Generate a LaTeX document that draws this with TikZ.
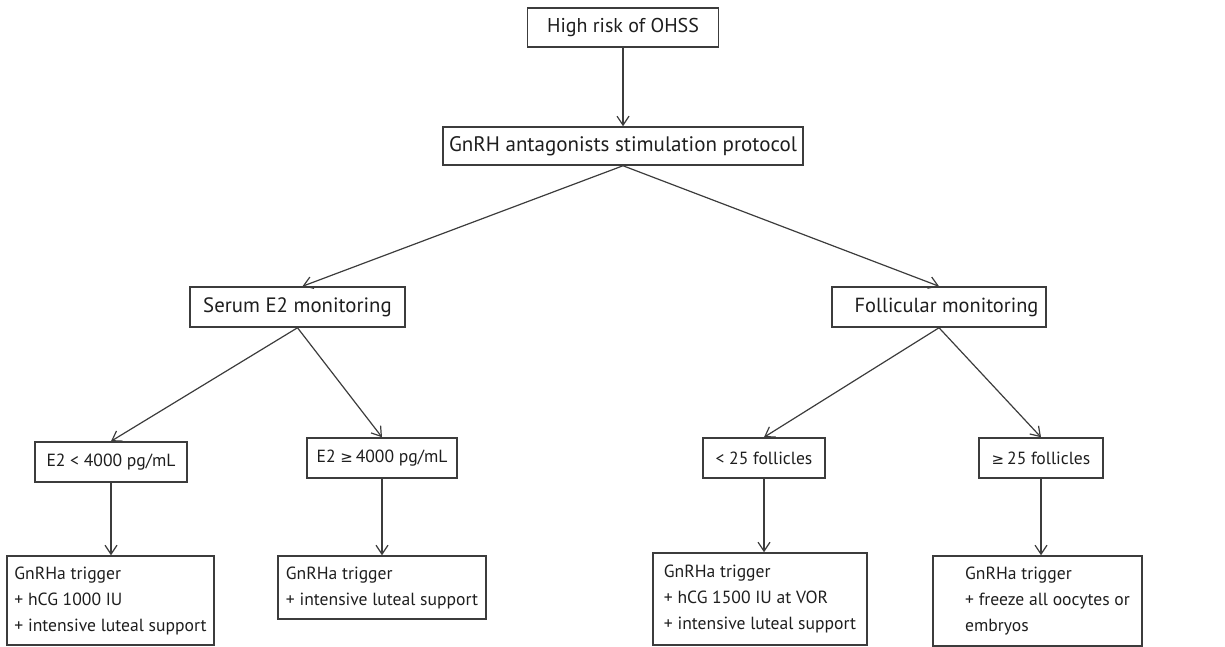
\documentclass[tikz,border=0pt]{standalone}
\usepackage{fontspec}
\setmainfont{PT Sans}
\newfontfamily\symfont{DejaVu Sans}
\usetikzlibrary{arrows.meta}
\definecolor{linegray}{HTML}{3C3C3C}
\definecolor{inkgray}{HTML}{1E1E1E}
% greater-or-equal sign taken from DejaVu Sans, scaled to the running text
\newcommand{\geqsym}{{\symfont\fontsize{0.85\dimexpr\csname f@size\endcsname pt\relax}{26}\selectfont ≥}}
\begin{document}
\begin{tikzpicture}[x=1pt,y=-1pt,
  box/.style={draw=linegray, line width=1.5pt, rectangle, inner sep=0pt,
    align=left, text=inkgray},
  bigtext/.style={font=\fontsize{20.5}{26}\selectfont},
  smalltext/.style={font=\fontsize{17.6}{26}\selectfont},
  arr/.style={draw=linegray, line width=1.2pt,
    -{Straight Barb[length=9pt,width=12pt,line width=1.2pt]}}]
\useasboundingbox (0,0) rectangle (1225,646);

% top of the decision tree
\node[box, font=\fontsize{20}{26}\selectfont, minimum width=191pt, minimum height=39pt]
  (risk) at (623,27.5) {High risk of OHSS};
\node[box, font=\fontsize{21}{26}\selectfont, minimum width=360pt, minimum height=38pt]
  (proto) at (623,146) {GnRH antagonists stimulation protocol};

% monitoring branches
\node[box, font=\fontsize{20.8}{26}\selectfont, minimum width=215pt, minimum height=40pt]
  (serum) at (297.5,307) {Serum E2 monitoring};
\node[box, font=\fontsize{20.4}{26}\selectfont, minimum width=214pt, minimum height=40pt]
  (foll) at (939,307) {\hspace*{15pt}Follicular monitoring};

% thresholds
\node[box, smalltext, minimum width=152pt, minimum height=40pt]
  (e2lo) at (111,462) {E2 < 4000 pg/mL};
\node[box, smalltext, minimum width=150pt, minimum height=40pt]
  (e2hi) at (382,458) {E2 \geqsym\,4000 pg/mL};
\node[box, smalltext, minimum width=122pt, minimum height=40pt]
  (lt25) at (764,458) {< 25 follicles};
\node[box, smalltext, minimum width=124pt, minimum height=40pt]
  (ge25) at (1041,458) {\geqsym\,25 follicles};

% treatment outcomes
\node[box, smalltext, minimum width=207pt, minimum height=89pt] (trA) at (110.5,600.5)
  {GnRHa trigger\\+ hCG 1000 IU\\+ intensive luteal support};
\node[box, smalltext, minimum width=208pt, minimum height=63pt] (trB) at (382,587.5)
  {GnRHa trigger\\+ intensive luteal support};
\node[box, smalltext, minimum width=214pt, minimum height=92pt] (trC) at (760,599)
  {GnRHa trigger\\+ hCG 1500 IU at VOR\\+ intensive luteal support};
\node[box, smalltext, minimum width=209pt, minimum height=90pt] (trD) at (1037.5,601)
  {\hspace*{20pt}GnRHa trigger\\\hspace*{20pt}+ freeze all oocytes or\\\hspace*{20pt}embryos};

% connectors
\draw[arr] (risk.south) -- (proto.north);
\draw[arr] (proto.south) -- ([xshift=5pt]serum.north);
\draw[arr] (proto.south) -- (foll.north);
\draw[arr] (serum.south) -- (e2lo.north);
\draw[arr] (serum.south) -- (e2hi.north);
\draw[arr] (foll.south) -- (lt25.north);
\draw[arr] (foll.south) -- (ge25.north);
\draw[arr] (e2lo.south) -- (e2lo.south |- trA.north);
\draw[arr] (e2hi.south) -- (e2hi.south |- trB.north);
\draw[arr] (lt25.south) -- (lt25.south |- trC.north);
\draw[arr] (ge25.south) -- (ge25.south |- trD.north);
\end{tikzpicture}
\end{document}
